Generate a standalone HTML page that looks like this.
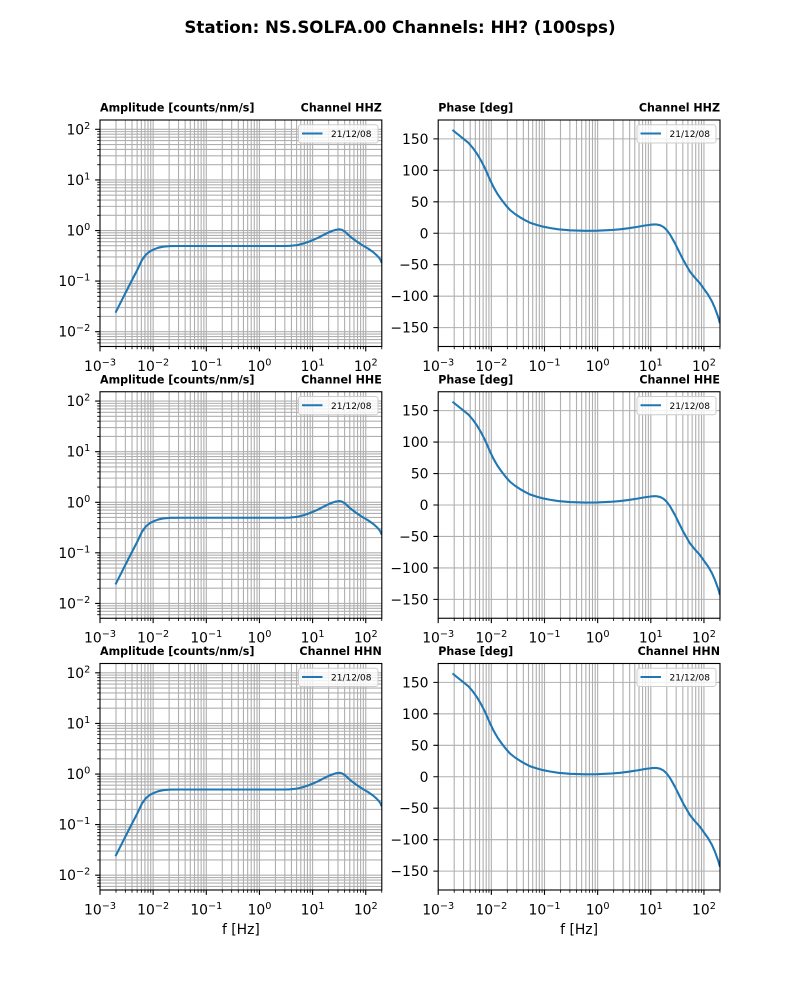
<!DOCTYPE html>
<html>
<head>
<meta charset="utf-8">
<style>
  html, body { margin: 0; padding: 0; background: #ffffff; }
  svg { display: block; }
  text { font-family: "DejaVu Sans", "Liberation Sans", sans-serif; fill: #000; }
  .tl { font-size: 13.9px; }
  .sup { font-size: 9.7px; }
  .st { font-size: 11.1px; font-weight: bold; }
  .lg { font-size: 9px; }
</style>
</head>
<body>
<svg width="800" height="1000" viewBox="0 0 800 1000" xmlns="http://www.w3.org/2000/svg" xmlns:xlink="http://www.w3.org/1999/xlink">
<rect x="0" y="0" width="800" height="1000" fill="#ffffff"/>
<defs>
  <!-- vertical grid (log x), local coords -->
  <path id="xgrid" fill="none" stroke="#b0b0b0" stroke-width="1.11" d="M16 0V226.5M25.36 0V226.5M32 0V226.5M37.15 0V226.5M41.36 0V226.5M44.92 0V226.5M48 0V226.5M50.72 0V226.5M53.15 0V226.5M69.15 0V226.5M78.51 0V226.5M85.15 0V226.5M90.3 0V226.5M94.51 0V226.5M98.07 0V226.5M101.15 0V226.5M103.87 0V226.5M106.3 0V226.5M122.3 0V226.5M131.66 0V226.5M138.3 0V226.5M143.45 0V226.5M147.66 0V226.5M151.22 0V226.5M154.3 0V226.5M157.02 0V226.5M159.45 0V226.5M175.45 0V226.5M184.81 0V226.5M191.45 0V226.5M196.6 0V226.5M200.81 0V226.5M204.37 0V226.5M207.45 0V226.5M210.17 0V226.5M212.6 0V226.5M228.6 0V226.5M237.96 0V226.5M244.6 0V226.5M249.75 0V226.5M253.96 0V226.5M257.52 0V226.5M260.6 0V226.5M263.32 0V226.5M265.75 0V226.5"/>
  <!-- amplitude horizontal grid -->
  <path id="aygrid" fill="none" stroke="#b0b0b0" stroke-width="1.11" d="M0 9.31H281.8M0 59.91H281.8M0 110.51H281.8M0 161.11H281.8M0 211.71H281.8M0 222.94H281.8M0 219.55H281.8M0 216.61H281.8M0 214.03H281.8M0 196.48H281.8M0 187.57H281.8M0 181.25H281.8M0 176.34H281.8M0 172.34H281.8M0 168.95H281.8M0 166.01H281.8M0 163.43H281.8M0 145.88H281.8M0 136.97H281.8M0 130.65H281.8M0 125.74H281.8M0 121.74H281.8M0 118.35H281.8M0 115.41H281.8M0 112.83H281.8M0 95.28H281.8M0 86.37H281.8M0 80.05H281.8M0 75.14H281.8M0 71.14H281.8M0 67.75H281.8M0 64.81H281.8M0 62.23H281.8M0 44.68H281.8M0 35.77H281.8M0 29.45H281.8M0 24.54H281.8M0 20.54H281.8M0 17.15H281.8M0 14.21H281.8M0 11.63H281.8"/>
  <!-- phase horizontal grid -->
  <path id="pygrid" fill="none" stroke="#b0b0b0" stroke-width="1.11" d="M0 18.87H281.8M0 50.33H281.8M0 81.79H281.8M0 113.25H281.8M0 144.71H281.8M0 176.17H281.8M0 207.63H281.8"/>
  <!-- x ticks -->
  <g id="xticks" fill="none" stroke="#000">
    <path stroke-width="1.11" d="M0 226.5v4.86M53.15 226.5v4.86M106.3 226.5v4.86M159.45 226.5v4.86M212.6 226.5v4.86M265.75 226.5v4.86"/>
    <path stroke-width="0.83" d="M16 226.5v2.78M25.36 226.5v2.78M32 226.5v2.78M37.15 226.5v2.78M41.36 226.5v2.78M44.92 226.5v2.78M48 226.5v2.78M50.72 226.5v2.78M69.15 226.5v2.78M78.51 226.5v2.78M85.15 226.5v2.78M90.3 226.5v2.78M94.51 226.5v2.78M98.07 226.5v2.78M101.15 226.5v2.78M103.87 226.5v2.78M122.3 226.5v2.78M131.66 226.5v2.78M138.3 226.5v2.78M143.45 226.5v2.78M147.66 226.5v2.78M151.22 226.5v2.78M154.3 226.5v2.78M157.02 226.5v2.78M175.45 226.5v2.78M184.81 226.5v2.78M191.45 226.5v2.78M196.6 226.5v2.78M200.81 226.5v2.78M204.37 226.5v2.78M207.45 226.5v2.78M210.17 226.5v2.78M228.6 226.5v2.78M237.96 226.5v2.78M244.6 226.5v2.78M249.75 226.5v2.78M253.96 226.5v2.78M257.52 226.5v2.78M260.6 226.5v2.78M263.32 226.5v2.78M281.75 226.5v2.78"/>
  </g>
  <!-- amplitude y ticks -->
  <g id="ayticks" fill="none" stroke="#000">
    <path stroke-width="1.11" d="M0 9.31h-4.86M0 59.91h-4.86M0 110.51h-4.86M0 161.11h-4.86M0 211.71h-4.86"/>
    <path stroke-width="0.83" d="M0 222.94h-2.78M0 219.55h-2.78M0 216.61h-2.78M0 214.03h-2.78M0 196.48h-2.78M0 187.57h-2.78M0 181.25h-2.78M0 176.34h-2.78M0 172.34h-2.78M0 168.95h-2.78M0 166.01h-2.78M0 163.43h-2.78M0 145.88h-2.78M0 136.97h-2.78M0 130.65h-2.78M0 125.74h-2.78M0 121.74h-2.78M0 118.35h-2.78M0 115.41h-2.78M0 112.83h-2.78M0 95.28h-2.78M0 86.37h-2.78M0 80.05h-2.78M0 75.14h-2.78M0 71.14h-2.78M0 67.75h-2.78M0 64.81h-2.78M0 62.23h-2.78M0 44.68h-2.78M0 35.77h-2.78M0 29.45h-2.78M0 24.54h-2.78M0 20.54h-2.78M0 17.15h-2.78M0 14.21h-2.78M0 11.63h-2.78"/>
  </g>
  <!-- phase y ticks -->
  <path id="pyticks" fill="none" stroke="#000" stroke-width="1.11" d="M0 18.87h-4.86M0 50.33h-4.86M0 81.79h-4.86M0 113.25h-4.86M0 144.71h-4.86M0 176.17h-4.86M0 207.63h-4.86"/>
  <!-- curves -->
  <polyline id="acurve" fill="none" stroke="#1f77b4" stroke-width="2.08" stroke-linejoin="round" stroke-linecap="butt"
    points="15.5,192.7 22,179.8 30,164 37,150.5 42,140 46,134.5 50,131.3 54,129.3 58,127.8 63,126.7 70,126.1 80,126 185,126 190,125.8 197,125.1 203,123.6 208,122 213,120 218,117.8 223,115.2 228,112.7 232,111 236,109.8 239.5,109.3 242,109.9 245,111.7 250,116.4 256,121 262,125 268,128.5 273,132 277,135.5 280,139 281.8,143"/>
  <polyline id="pcurve" fill="none" stroke="#1f77b4" stroke-width="2.08" stroke-linejoin="round" stroke-linecap="butt"
    points="14.3,10 30.1,22.7 34.3,27.5 38.5,33.3 42.8,40.5 46.8,48.3 50.8,57.5 55.1,66.7 59.3,74 63.5,80 67.8,85.5 71.8,90 76.8,94 81.8,97.3 86.8,100.2 91.8,102.7 98.8,105 105.1,106.7 111.8,108 120.1,109.3 131.8,110.3 146.8,110.8 158.8,110.7 171.8,110.1 181.8,109.3 189.8,108.3 198.5,107 206.8,105.5 213.5,104.6 217.8,104.4 221.8,105.2 225.3,107 228.5,110 231.8,114.5 236.8,123.3 240.8,131.5 245.1,140 248.8,146.5 251.8,151.7 256.8,157.8 261.8,163.3 265.8,169 270.1,175 273.8,181.5 276.8,188.3 279.8,196.5 281.8,203.3"/>
  <clipPath id="clipax"><rect x="0" y="0" width="281.8" height="226.5"/></clipPath>
</defs>

<!-- Figure title -->
<text x="400" y="33.2" text-anchor="middle" style="font-size:16.67px;font-weight:bold;">Station: NS.SOLFA.00 Channels: HH? (100sps)</text>

<!-- ================= ROW 1 ================= -->
<g transform="translate(100,120)">
  <use href="#xgrid"/><use href="#aygrid"/>
  <g clip-path="url(#clipax)"><use href="#acurve"/></g>
  <rect x="0" y="0" width="281.8" height="226.5" fill="none" stroke="#000" stroke-width="1.11"/>
  <use href="#xticks"/><use href="#ayticks"/>
  <rect x="198.5" y="4.7" width="79.5" height="18.3" rx="2.5" fill="#ffffff" fill-opacity="0.8" stroke="#cccccc" stroke-width="1"/>
  <line x1="202" y1="13.5" x2="222.5" y2="13.5" stroke="#1f77b4" stroke-width="2.08"/>
  <text class="lg" x="231" y="17">21/12/08</text>
</g>
<g transform="translate(438.2,120)">
  <use href="#xgrid"/><use href="#pygrid"/>
  <g clip-path="url(#clipax)"><use href="#pcurve"/></g>
  <rect x="0" y="0" width="281.8" height="226.5" fill="none" stroke="#000" stroke-width="1.11"/>
  <use href="#xticks"/><use href="#pyticks"/>
  <rect x="198.8" y="4.7" width="79" height="18.3" rx="2.5" fill="#ffffff" fill-opacity="0.8" stroke="#cccccc" stroke-width="1"/>
  <line x1="202.3" y1="13.5" x2="222.8" y2="13.5" stroke="#1f77b4" stroke-width="2.08"/>
  <text class="lg" x="231.3" y="17">21/12/08</text>
</g>
<text class="st" x="100" y="111.7">Amplitude [counts/nm/s]</text>
<text class="st" x="381.8" y="111.7" text-anchor="end">Channel HHZ</text>
<text class="st" x="438.2" y="111.7">Phase [deg]</text>
<text class="st" x="720" y="111.7" text-anchor="end">Channel HHZ</text>
<!-- amp y labels -->
<text class="tl" x="90.3" y="134.3" text-anchor="end">10<tspan class="sup" dy="-5.5">2</tspan></text>
<text class="tl" x="90.3" y="184.9" text-anchor="end">10<tspan class="sup" dy="-5.5">1</tspan></text>
<text class="tl" x="90.3" y="235.5" text-anchor="end">10<tspan class="sup" dy="-5.5">0</tspan></text>
<text class="tl" x="90.3" y="286.1" text-anchor="end">10<tspan class="sup" dy="-5.5">−1</tspan></text>
<text class="tl" x="90.3" y="336.7" text-anchor="end">10<tspan class="sup" dy="-5.5">−2</tspan></text>
<!-- phase y labels -->
<text class="tl" x="428.5" y="143.9" text-anchor="end">150</text>
<text class="tl" x="428.5" y="175.3" text-anchor="end">100</text>
<text class="tl" x="428.5" y="206.8" text-anchor="end">50</text>
<text class="tl" x="428.5" y="238.3" text-anchor="end">0</text>
<text class="tl" x="428.5" y="269.7" text-anchor="end">−50</text>
<text class="tl" x="428.5" y="301.2" text-anchor="end">−100</text>
<text class="tl" x="428.5" y="332.6" text-anchor="end">−150</text>
<!-- x labels -->
<text class="tl" x="100" y="370.8" text-anchor="middle">10<tspan class="sup" dy="-5.5">−3</tspan></text>
<text class="tl" x="153.15" y="370.8" text-anchor="middle">10<tspan class="sup" dy="-5.5">−2</tspan></text>
<text class="tl" x="206.3" y="370.8" text-anchor="middle">10<tspan class="sup" dy="-5.5">−1</tspan></text>
<text class="tl" x="259.45" y="370.8" text-anchor="middle">10<tspan class="sup" dy="-5.5">0</tspan></text>
<text class="tl" x="312.6" y="370.8" text-anchor="middle">10<tspan class="sup" dy="-5.5">1</tspan></text>
<text class="tl" x="365.75" y="370.8" text-anchor="middle">10<tspan class="sup" dy="-5.5">2</tspan></text>
<text class="tl" x="438.2" y="370.8" text-anchor="middle">10<tspan class="sup" dy="-5.5">−3</tspan></text>
<text class="tl" x="491.35" y="370.8" text-anchor="middle">10<tspan class="sup" dy="-5.5">−2</tspan></text>
<text class="tl" x="544.5" y="370.8" text-anchor="middle">10<tspan class="sup" dy="-5.5">−1</tspan></text>
<text class="tl" x="597.65" y="370.8" text-anchor="middle">10<tspan class="sup" dy="-5.5">0</tspan></text>
<text class="tl" x="650.8" y="370.8" text-anchor="middle">10<tspan class="sup" dy="-5.5">1</tspan></text>
<text class="tl" x="703.95" y="370.8" text-anchor="middle">10<tspan class="sup" dy="-5.5">2</tspan></text>

<!-- ================= ROW 2 ================= -->
<g transform="translate(100,391.75)">
  <use href="#xgrid"/><use href="#aygrid"/>
  <g clip-path="url(#clipax)"><use href="#acurve"/></g>
  <rect x="0" y="0" width="281.8" height="226.5" fill="none" stroke="#000" stroke-width="1.11"/>
  <use href="#xticks"/><use href="#ayticks"/>
  <rect x="198.5" y="4.7" width="79.5" height="18.3" rx="2.5" fill="#ffffff" fill-opacity="0.8" stroke="#cccccc" stroke-width="1"/>
  <line x1="202" y1="13.5" x2="222.5" y2="13.5" stroke="#1f77b4" stroke-width="2.08"/>
  <text class="lg" x="231" y="17">21/12/08</text>
</g>
<g transform="translate(438.2,391.75)">
  <use href="#xgrid"/><use href="#pygrid"/>
  <g clip-path="url(#clipax)"><use href="#pcurve"/></g>
  <rect x="0" y="0" width="281.8" height="226.5" fill="none" stroke="#000" stroke-width="1.11"/>
  <use href="#xticks"/><use href="#pyticks"/>
  <rect x="198.8" y="4.7" width="79" height="18.3" rx="2.5" fill="#ffffff" fill-opacity="0.8" stroke="#cccccc" stroke-width="1"/>
  <line x1="202.3" y1="13.5" x2="222.8" y2="13.5" stroke="#1f77b4" stroke-width="2.08"/>
  <text class="lg" x="231.3" y="17">21/12/08</text>
</g>
<text class="st" x="100" y="383.45">Amplitude [counts/nm/s]</text>
<text class="st" x="381.8" y="383.45" text-anchor="end">Channel HHE</text>
<text class="st" x="438.2" y="383.45">Phase [deg]</text>
<text class="st" x="720" y="383.45" text-anchor="end">Channel HHE</text>
<text class="tl" x="90.3" y="406.05" text-anchor="end">10<tspan class="sup" dy="-5.5">2</tspan></text>
<text class="tl" x="90.3" y="456.65" text-anchor="end">10<tspan class="sup" dy="-5.5">1</tspan></text>
<text class="tl" x="90.3" y="507.25" text-anchor="end">10<tspan class="sup" dy="-5.5">0</tspan></text>
<text class="tl" x="90.3" y="557.85" text-anchor="end">10<tspan class="sup" dy="-5.5">−1</tspan></text>
<text class="tl" x="90.3" y="608.45" text-anchor="end">10<tspan class="sup" dy="-5.5">−2</tspan></text>
<text class="tl" x="428.5" y="415.65" text-anchor="end">150</text>
<text class="tl" x="428.5" y="447.05" text-anchor="end">100</text>
<text class="tl" x="428.5" y="478.55" text-anchor="end">50</text>
<text class="tl" x="428.5" y="510.05" text-anchor="end">0</text>
<text class="tl" x="428.5" y="541.45" text-anchor="end">−50</text>
<text class="tl" x="428.5" y="572.95" text-anchor="end">−100</text>
<text class="tl" x="428.5" y="604.35" text-anchor="end">−150</text>
<text class="tl" x="100" y="642.55" text-anchor="middle">10<tspan class="sup" dy="-5.5">−3</tspan></text>
<text class="tl" x="153.15" y="642.55" text-anchor="middle">10<tspan class="sup" dy="-5.5">−2</tspan></text>
<text class="tl" x="206.3" y="642.55" text-anchor="middle">10<tspan class="sup" dy="-5.5">−1</tspan></text>
<text class="tl" x="259.45" y="642.55" text-anchor="middle">10<tspan class="sup" dy="-5.5">0</tspan></text>
<text class="tl" x="312.6" y="642.55" text-anchor="middle">10<tspan class="sup" dy="-5.5">1</tspan></text>
<text class="tl" x="365.75" y="642.55" text-anchor="middle">10<tspan class="sup" dy="-5.5">2</tspan></text>
<text class="tl" x="438.2" y="642.55" text-anchor="middle">10<tspan class="sup" dy="-5.5">−3</tspan></text>
<text class="tl" x="491.35" y="642.55" text-anchor="middle">10<tspan class="sup" dy="-5.5">−2</tspan></text>
<text class="tl" x="544.5" y="642.55" text-anchor="middle">10<tspan class="sup" dy="-5.5">−1</tspan></text>
<text class="tl" x="597.65" y="642.55" text-anchor="middle">10<tspan class="sup" dy="-5.5">0</tspan></text>
<text class="tl" x="650.8" y="642.55" text-anchor="middle">10<tspan class="sup" dy="-5.5">1</tspan></text>
<text class="tl" x="703.95" y="642.55" text-anchor="middle">10<tspan class="sup" dy="-5.5">2</tspan></text>

<!-- ================= ROW 3 ================= -->
<g transform="translate(100,663.5)">
  <use href="#xgrid"/><use href="#aygrid"/>
  <g clip-path="url(#clipax)"><use href="#acurve"/></g>
  <rect x="0" y="0" width="281.8" height="226.5" fill="none" stroke="#000" stroke-width="1.11"/>
  <use href="#xticks"/><use href="#ayticks"/>
  <rect x="198.5" y="4.7" width="79.5" height="18.3" rx="2.5" fill="#ffffff" fill-opacity="0.8" stroke="#cccccc" stroke-width="1"/>
  <line x1="202" y1="13.5" x2="222.5" y2="13.5" stroke="#1f77b4" stroke-width="2.08"/>
  <text class="lg" x="231" y="17">21/12/08</text>
</g>
<g transform="translate(438.2,663.5)">
  <use href="#xgrid"/><use href="#pygrid"/>
  <g clip-path="url(#clipax)"><use href="#pcurve"/></g>
  <rect x="0" y="0" width="281.8" height="226.5" fill="none" stroke="#000" stroke-width="1.11"/>
  <use href="#xticks"/><use href="#pyticks"/>
  <rect x="198.8" y="4.7" width="79" height="18.3" rx="2.5" fill="#ffffff" fill-opacity="0.8" stroke="#cccccc" stroke-width="1"/>
  <line x1="202.3" y1="13.5" x2="222.8" y2="13.5" stroke="#1f77b4" stroke-width="2.08"/>
  <text class="lg" x="231.3" y="17">21/12/08</text>
</g>
<text class="st" x="100" y="655.2">Amplitude [counts/nm/s]</text>
<text class="st" x="381.8" y="655.2" text-anchor="end">Channel HHN</text>
<text class="st" x="438.2" y="655.2">Phase [deg]</text>
<text class="st" x="720" y="655.2" text-anchor="end">Channel HHN</text>
<text class="tl" x="90.3" y="677.8" text-anchor="end">10<tspan class="sup" dy="-5.5">2</tspan></text>
<text class="tl" x="90.3" y="728.4" text-anchor="end">10<tspan class="sup" dy="-5.5">1</tspan></text>
<text class="tl" x="90.3" y="779" text-anchor="end">10<tspan class="sup" dy="-5.5">0</tspan></text>
<text class="tl" x="90.3" y="829.6" text-anchor="end">10<tspan class="sup" dy="-5.5">−1</tspan></text>
<text class="tl" x="90.3" y="880.2" text-anchor="end">10<tspan class="sup" dy="-5.5">−2</tspan></text>
<text class="tl" x="428.5" y="687.4" text-anchor="end">150</text>
<text class="tl" x="428.5" y="718.8" text-anchor="end">100</text>
<text class="tl" x="428.5" y="750.3" text-anchor="end">50</text>
<text class="tl" x="428.5" y="781.8" text-anchor="end">0</text>
<text class="tl" x="428.5" y="813.2" text-anchor="end">−50</text>
<text class="tl" x="428.5" y="844.7" text-anchor="end">−100</text>
<text class="tl" x="428.5" y="876.1" text-anchor="end">−150</text>
<text class="tl" x="100" y="914.3" text-anchor="middle">10<tspan class="sup" dy="-5.5">−3</tspan></text>
<text class="tl" x="153.15" y="914.3" text-anchor="middle">10<tspan class="sup" dy="-5.5">−2</tspan></text>
<text class="tl" x="206.3" y="914.3" text-anchor="middle">10<tspan class="sup" dy="-5.5">−1</tspan></text>
<text class="tl" x="259.45" y="914.3" text-anchor="middle">10<tspan class="sup" dy="-5.5">0</tspan></text>
<text class="tl" x="312.6" y="914.3" text-anchor="middle">10<tspan class="sup" dy="-5.5">1</tspan></text>
<text class="tl" x="365.75" y="914.3" text-anchor="middle">10<tspan class="sup" dy="-5.5">2</tspan></text>
<text class="tl" x="438.2" y="914.3" text-anchor="middle">10<tspan class="sup" dy="-5.5">−3</tspan></text>
<text class="tl" x="491.35" y="914.3" text-anchor="middle">10<tspan class="sup" dy="-5.5">−2</tspan></text>
<text class="tl" x="544.5" y="914.3" text-anchor="middle">10<tspan class="sup" dy="-5.5">−1</tspan></text>
<text class="tl" x="597.65" y="914.3" text-anchor="middle">10<tspan class="sup" dy="-5.5">0</tspan></text>
<text class="tl" x="650.8" y="914.3" text-anchor="middle">10<tspan class="sup" dy="-5.5">1</tspan></text>
<text class="tl" x="703.95" y="914.3" text-anchor="middle">10<tspan class="sup" dy="-5.5">2</tspan></text>

<!-- x axis labels -->
<text class="tl" x="240.9" y="934" text-anchor="middle">f [Hz]</text>
<text class="tl" x="579.1" y="934" text-anchor="middle">f [Hz]</text>
</svg>
</body>
</html>
